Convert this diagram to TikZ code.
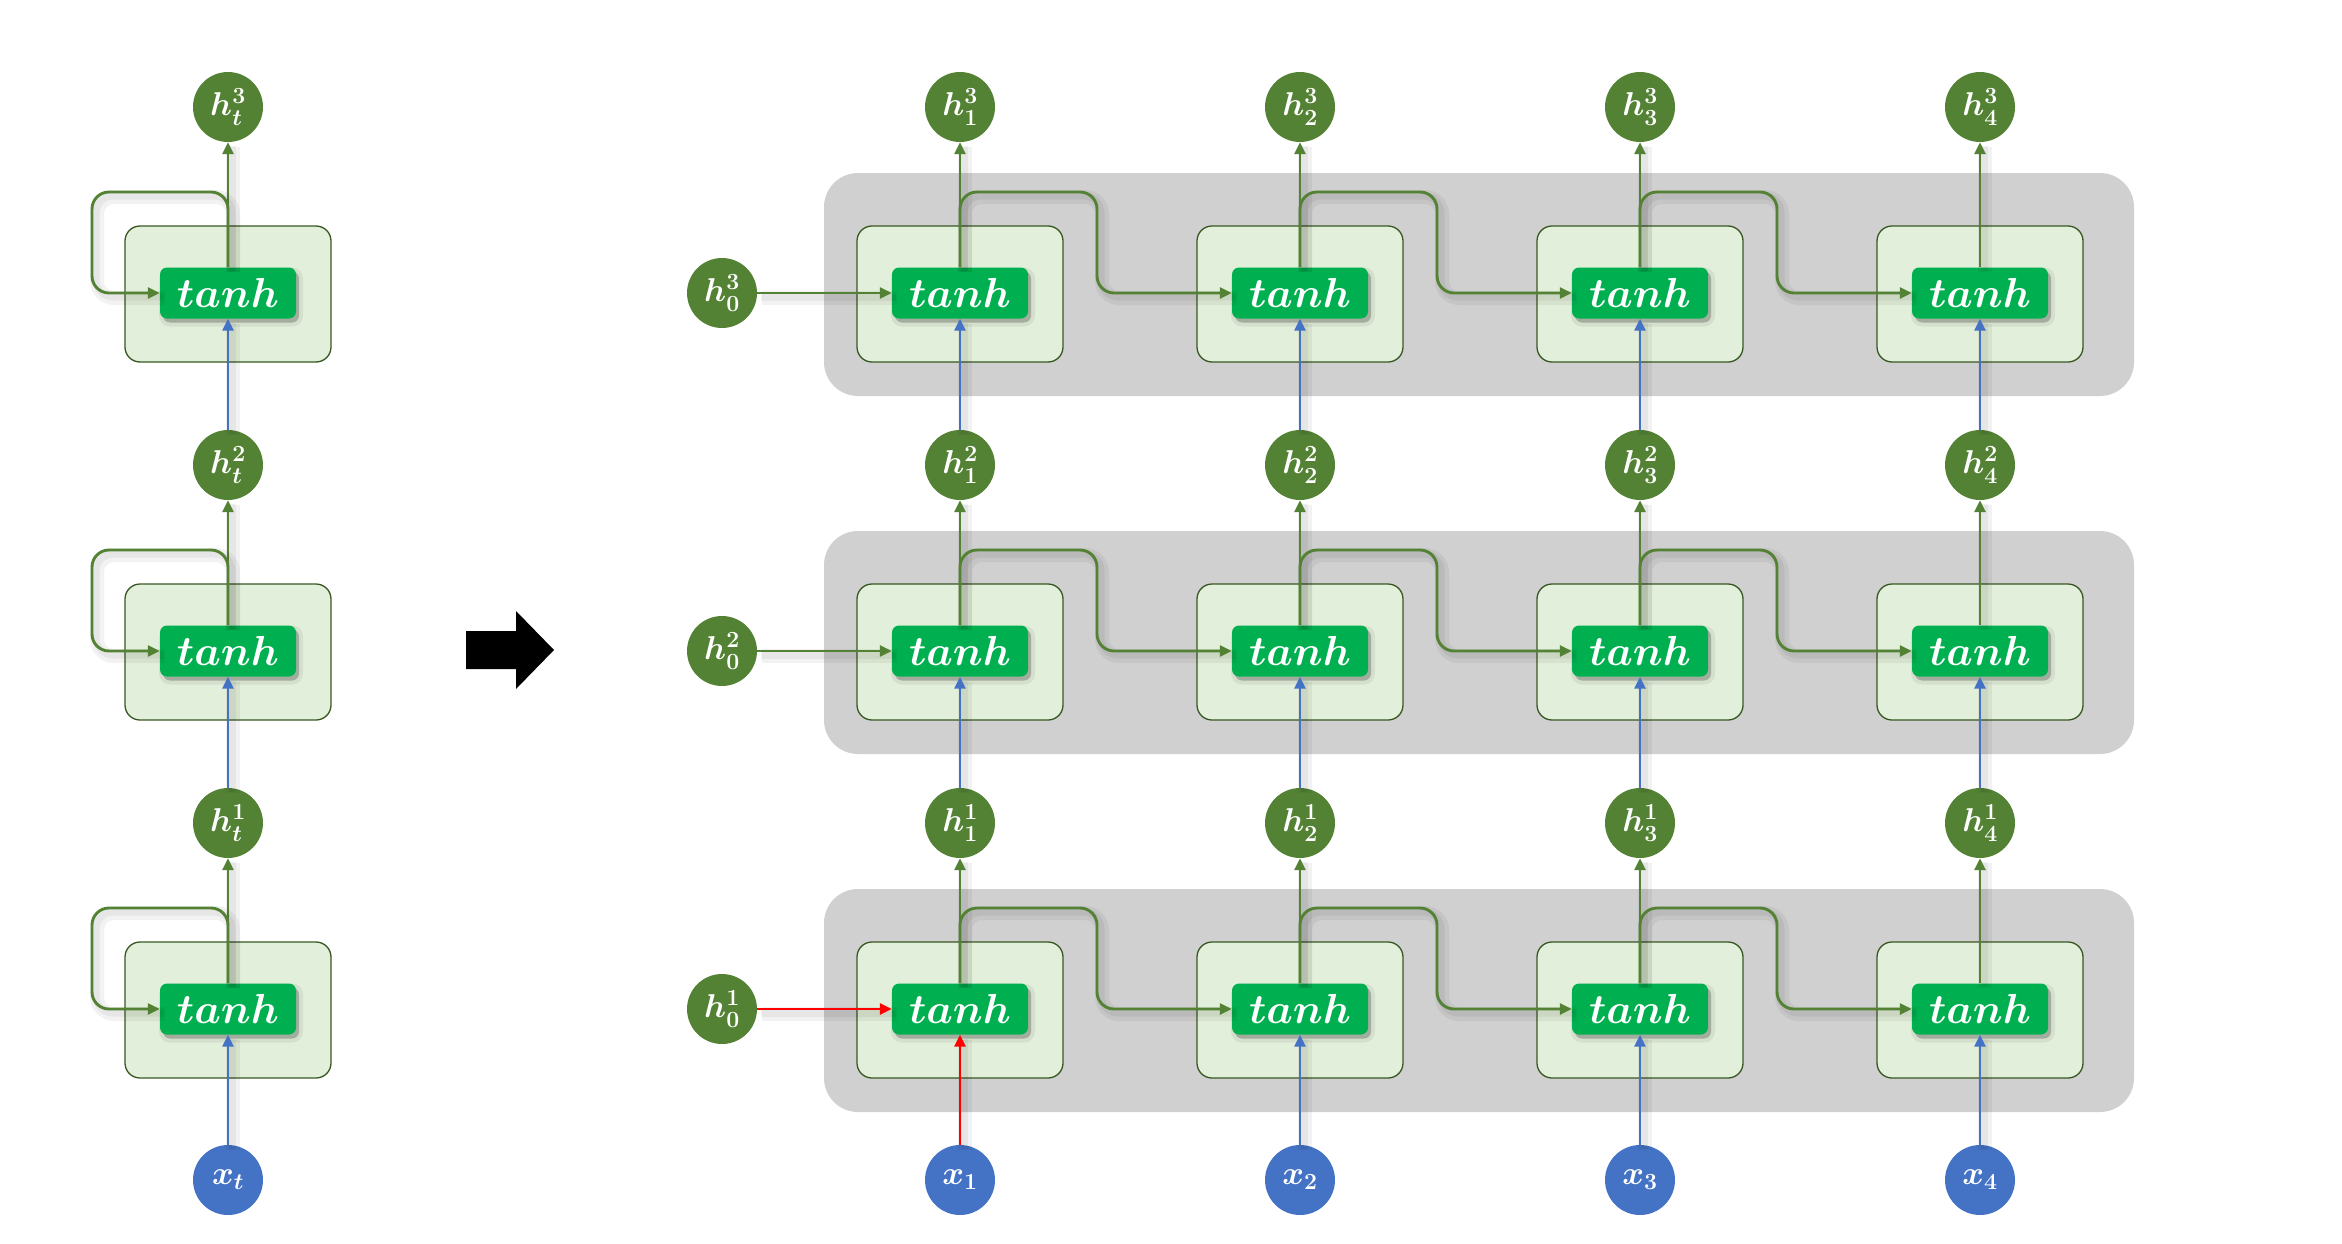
\RequirePackage{fix-cm}
\documentclass[tikz,border=0pt]{standalone}
\usetikzlibrary{arrows.meta}
\definecolor{hgreen}{HTML}{548235}
\definecolor{xblue}{HTML}{4472C4}
\definecolor{tanhg}{HTML}{00B050}
\definecolor{cellfill}{HTML}{E2EFDA}
\definecolor{cellline}{HTML}{385723}
\definecolor{bandgray}{HTML}{D0D0D0}
\definecolor{redline}{HTML}{FF0000}
\begin{document}
\begin{tikzpicture}[x=1pt,y=-1pt,
  hcirc/.style={circle, fill=hgreen, minimum size=70pt, inner sep=0pt, text=white,
    font=\fontsize{33}{40}\selectfont\boldmath},
  xcirc/.style={hcirc, fill=xblue},
  cellbox/.style={rectangle, rounded corners=15pt, fill=cellfill, draw=cellline,
    line width=1.3pt, minimum width=206pt, minimum height=136pt, inner sep=0pt},
  tanhbox/.style={rectangle, rounded corners=7pt, fill=tanhg, minimum width=136pt,
    minimum height=51pt, inner sep=0pt, text=white, font=\fontsize{42}{48}\selectfont\boldmath,
    preaction={draw=black, draw opacity=0.06, line width=8pt, fill=black, fill opacity=0.06,
      transform canvas={xshift=3pt,yshift=-4pt}},
    preaction={fill=black, fill opacity=0.18,
      transform canvas={xshift=3pt,yshift=-4pt}}},
  lshadow/.style={preaction={draw=black, draw opacity=0.05, line width=14pt, arrows=-,
      transform canvas={xshift=5pt,yshift=-5pt}},
    preaction={draw=black, draw opacity=0.05, line width=7pt, arrows=-,
      transform canvas={xshift=4pt,yshift=-4pt}}},
  conn/.style={lshadow, line width=2.9pt, -{Triangle[length=12pt,width=11pt]}},
  garr/.style={conn, draw=hgreen},
  barr/.style={conn, draw=xblue},
  rarr/.style={conn, draw=redline},
  loopline/.style={garr, rounded corners=17pt},
]
\useasboundingbox (0,0) rectangle (2342,1244);

% ---------- backgrounds ----------
\foreach \y in {293,651,1009} {
  \fill[bandgray, rounded corners=34pt] (824,\y-120) rectangle (2134,\y+103);
}
\node[cellbox] (CL3) at (228,294) {};
\node[cellbox] (CL2) at (228,652) {};
\node[cellbox] (CL1) at (228,1010) {};
\foreach \c/\x in {1/960,2/1300,3/1640,4/1980} {
  \foreach \l/\y in {3/293,2/651,1/1009} {
    \node[cellbox] (C\c\l) at (\x,\y+1) {};
  }
}

% ---------- left column ----------
\node[tanhbox] (TL3) at (228,293) {$tanh$};
\node[tanhbox] (TL2) at (228,651) {$tanh$};
\node[tanhbox] (TL1) at (228,1009) {$tanh$};
\node[hcirc] (HL3) at (228,107) {$h_t^3$};
\node[hcirc] (HL2) at (228,465) {$h_t^2$};
\node[hcirc] (HL1) at (228,823) {$h_t^1$};
\node[xcirc] (XL) at (228,1180) {$x_t$};

% ---------- big arrow ----------
\fill[black] (466,631) -- (516,631) -- (516,611) -- (554,650) -- (516,689) -- (516,669) -- (466,669) -- cycle;

% ---------- unrolled network ----------
\node[hcirc] (H03) at (722,293) {$h_0^3$};
\node[hcirc] (H02) at (722,651) {$h_0^2$};
\node[hcirc] (H01) at (722,1009) {$h_0^1$};
\foreach \c/\x in {1/960,2/1300,3/1640,4/1980} {
  \foreach \l/\y in {3/293,2/651,1/1009} {
    \node[tanhbox] (T\c\l) at (\x,\y) {$tanh$};
    \node[hcirc] (H\c\l) at (\x,\y-186) {$h_{\c}^{\l}$};
  }
  \node[xcirc] (X\c) at (\x,1180) {$x_{\c}$};
}

% ---------- connectors ----------
% left column
\foreach \l/\y in {3/293,2/651,1/1009} {
  \draw[garr] (TL\l.north) -- (HL\l.south);
  \draw[loopline] (TL\l.north) |- (92,\y-101) |- (TL\l.west);
}
\draw[barr] (HL2.north) -- (TL3.south);
\draw[barr] (HL1.north) -- (TL2.south);
\draw[barr] (XL.north) -- (TL1.south);

% initial states
\draw[garr] (H03.east) -- (T13.west);
\draw[garr] (H02.east) -- (T12.west);
\draw[rarr] (H01.east) -- (T11.west);

% vertical connections
\foreach \c in {1,2,3,4} {
  \foreach \l in {3,2,1} {
    \draw[garr] (T\c\l.north) -- (H\c\l.south);
  }
  \draw[barr] (H\c2.north) -- (T\c3.south);
  \draw[barr] (H\c1.north) -- (T\c2.south);
}
\draw[rarr] (X1.north) -- (T11.south);
\draw[barr] (X2.north) -- (T21.south);
\draw[barr] (X3.north) -- (T31.south);
\draw[barr] (X4.north) -- (T41.south);

% recurrent connections
\foreach \c/\n/\x in {1/2/960,2/3/1300,3/4/1640} {
  \foreach \l/\y in {3/293,2/651,1/1009} {
    \draw[loopline] (T\c\l.north) |- (\x+137,\y-101) |- (T\n\l.west);
  }
}
\end{tikzpicture}
\end{document}
